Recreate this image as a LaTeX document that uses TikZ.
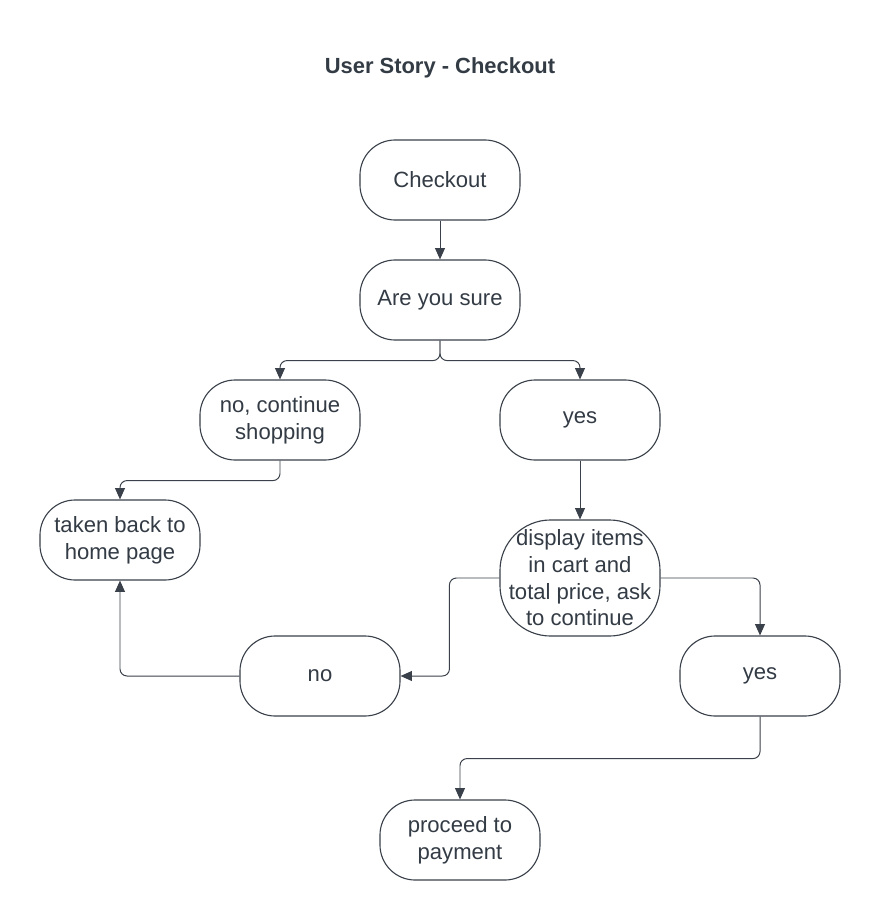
\documentclass[tikz,border=0pt]{standalone}
\usepackage{fontspec}
\setmainfont{Liberation Sans}
\usepackage{xcolor}
\usetikzlibrary{arrows.meta}
\definecolor{lineclr}{HTML}{3A414A}
\definecolor{textclr}{HTML}{333B45}
\tikzset{
	stepbox/.style={
			draw=lineclr, line width=0.8pt, rounded corners=25pt, fill=white,
			minimum width=4cm, minimum height=2cm, align=center,
			text=textclr, font=\fontsize{15.7}{19}\selectfont, inner sep=2pt
		},
	flow/.style={
			draw=lineclr, line width=0.7pt, rounded corners=5pt,
			-{Triangle[length=8pt,width=7pt]}
		}
}

\begin{document}
\begin{tikzpicture}[x=0.025cm,y=-0.025cm]
        \useasboundingbox (0,0) rectangle (880,920);
        % Titel
        \node[text=textclr, font=\bfseries\fontsize{15.6}{18}\selectfont] (title) at (440,68) {User Story - Checkout};
        % Knoten
        \node[stepbox] (checkout) at (440,180) {Checkout};
        \node[stepbox] (sure) at (440,300) {Are you sure};
        \node[stepbox] (shopping) at (280,420) {no, continue\\shopping};
        \node[stepbox] (yes) at (580,420) {yes};
        \node[stepbox] (home) at (120,540) {taken back to\\home page};
        \node[stepbox, minimum height=2.9cm, rounded corners=36pt] (cart) at (580,578) {display items\\in cart and\\total price, ask\\to continue};
        \node[stepbox] (no) at (320,676) {no};
        \node[stepbox] (yestwo) at (760,676) {yes};
        \node[stepbox] (payment) at (460,840) {proceed to\\payment};
        % Pfeile
        \draw[flow] (checkout) -- (sure);
        \draw[flow] (sure.south) -- ++(0,20) -| (shopping.north);
        \draw[flow] (sure.south) -- ++(0,20) -| (yes.north);
        \draw[flow] (shopping.south) -- ++(0,20) -| (home.north);
        \draw[flow] (yes) -- (cart);
        \draw[flow] (cart.west) -- ++(-50,0) |- (no.east);
        \draw[flow] (cart.east) -| (yestwo.north);
        \draw[flow] (no.west) -| (home.south);
        \draw[flow] (yestwo.south) -- ++(0,42) -| (payment.north);
    \end{tikzpicture}
\end{document}
